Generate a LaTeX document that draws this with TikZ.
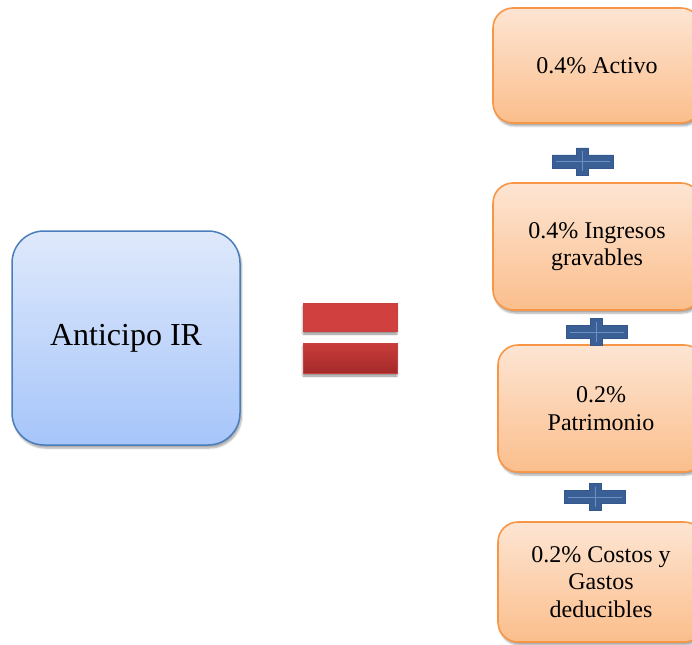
\documentclass[tikz,border=0pt]{standalone}
\usepackage{fontspec}
\setmainfont{Liberation Serif}
\usetikzlibrary{shadows.blur}

\definecolor{blueedge}{HTML}{4A7EBB}
\definecolor{bluetop}{HTML}{DFE9FB}
\definecolor{bluebot}{HTML}{A6C5FA}
\definecolor{orangeedge}{HTML}{F79646}
\definecolor{orangetop}{HTML}{FDE5D3}
\definecolor{orangebot}{HTML}{FBBE8C}
\definecolor{redtop}{HTML}{D0403E}
\definecolor{redbot}{HTML}{A42A2A}
\definecolor{rededge}{HTML}{C9413F}
\definecolor{plusfill}{HTML}{3A5F94}
\definecolor{plusedge}{HTML}{34578E}
\definecolor{plusline}{HTML}{6A90C6}

\tikzset{
  softshadow/.style={blur shadow={shadow xshift=1.5pt, shadow yshift=-3pt,
      shadow blur steps=6, shadow opacity=35}},
  mainbox/.style={rectangle, rounded corners=32pt, draw=blueedge, line width=1.5pt,
      top color=bluetop, bottom color=bluebot, inner sep=0pt,
      font=\fontsize{32}{36}\selectfont, softshadow},
  termbox/.style={rectangle, rounded corners=20pt, draw=orangeedge, line width=1.6pt,
      top color=orangetop, bottom color=orangebot, inner sep=0pt, align=center,
      font=\fontsize{24}{27.5}\selectfont, softshadow},
  eqbar/.style={rectangle, inner sep=0pt, minimum width=94pt, draw=rededge, line width=0.8pt,
      blur shadow={shadow xshift=0pt, shadow yshift=-3pt, shadow blur steps=2, shadow opacity=45}},
  pics/plussign/.style={code={
    \filldraw[fill=plusfill, draw=plusedge, line width=0.6pt]
      (-30.5,-6.5) -- (-6,-6.5) -- (-6,-13.5) -- (6,-13.5) -- (6,-6.5) -- (30.5,-6.5)
      -- (30.5,6.5) -- (6,6.5) -- (6,13.5) -- (-6,13.5) -- (-6,6.5) -- (-30.5,6.5) -- cycle;
    \draw[plusline, line width=0.8pt] (-27,0) -- (27,0) (0,-10) -- (0,10);
  }}
}

\begin{document}
\begin{tikzpicture}[x=1pt, y=-1pt]
  \useasboundingbox (0,0) rectangle (692,644);
  \clip (0,0) rectangle (692,644);

  % left-hand side
  \node[mainbox, minimum width=228pt, minimum height=214pt] (anticipo) at (126,338) {Anticipo IR};

  % equals sign
  \node[eqbar, minimum height=28pt, fill=redtop] (eqtop) at (350,317) {};
  \node[eqbar, minimum height=30pt, top color=redtop!85!redbot, bottom color=redbot] (eqbot) at (350,358) {};

  % right-hand terms
  \node[termbox, minimum width=208pt, minimum height=115pt] (activo) at (597,65.5) {0.4\% Activo};
  \node[termbox, minimum width=208pt, minimum height=127pt] (ingresos) at (597,246.5) {0.4\% Ingresos\\gravables};
  \node[termbox, minimum width=206pt, minimum height=127pt] (patrimonio) at (601,408.5) {0.2\%\\Patrimonio};
  \node[termbox, minimum width=206pt, minimum height=120pt] (costos) at (601,582) {0.2\% Costos y\\Gastos\\deducibles};

  % plus signs between the terms
  \pic (plusA) at (582.5,161.5) {plussign};
  \pic (plusB) at (596.5,332) {plussign};
  \pic (plusC) at (595,497) {plussign};
\end{tikzpicture}
\end{document}
